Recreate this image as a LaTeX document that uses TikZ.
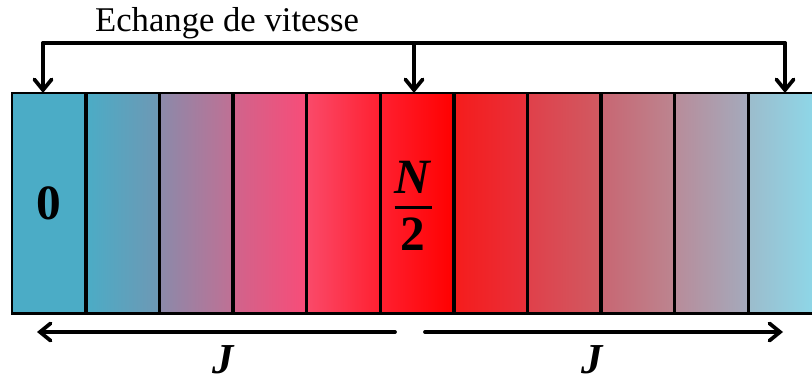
\documentclass[tikz,border=0pt]{standalone}
\usepackage{amsmath}
\usepackage{fontspec}
\setmainfont{Liberation Serif}
\usetikzlibrary{arrows.meta, positioning}

\definecolor{sh0l}{HTML}{4BACC6}
\definecolor{sh0r}{HTML}{4BACC6}
\definecolor{sh1l}{HTML}{4BACC6}
\definecolor{sh1r}{HTML}{6E98B4}
\definecolor{sh2l}{HTML}{8A8AAA}
\definecolor{sh2r}{HTML}{C07094}
\definecolor{sh3l}{HTML}{D0648C}
\definecolor{sh3r}{HTML}{F84C78}
\definecolor{sh4l}{HTML}{FA4A6A}
\definecolor{sh4r}{HTML}{FF2030}
\definecolor{sh5l}{HTML}{FF2030}
\definecolor{sh5r}{HTML}{FF0000}
\definecolor{sh6l}{HTML}{F51C1C}
\definecolor{sh6r}{HTML}{E8303A}
\definecolor{sh7l}{HTML}{E0404A}
\definecolor{sh7r}{HTML}{D05A62}
\definecolor{sh8l}{HTML}{C86672}
\definecolor{sh8r}{HTML}{BC8590}
\definecolor{sh9l}{HTML}{B88C9A}
\definecolor{sh9r}{HTML}{A4AABC}
\definecolor{sh10l}{HTML}{9CBCCC}
\definecolor{sh10r}{HTML}{8CDAEB}

\tikzset{
    cellbox/.style={rectangle, minimum width=55.2pt, minimum height=165pt, inner sep=0pt, anchor=north west},
    cellline/.style={line width=2.2pt},
    flowline/.style={line width=2.8pt, line cap=round, line join=round},
    flowarrow/.style={flowline, -{Straight Barb[length=8pt, width=13pt, line cap=round]}},
    bigsym/.style={font=\fontsize{37}{40}\selectfont\bfseries},
    spanlabel/.style={inner sep=0pt, font=\fontsize{32}{34}\selectfont\bfseries\itshape}
}

\begin{document}
\begin{tikzpicture}[x=0.75pt, y=-0.75pt]
    \useasboundingbox (0,0) rectangle (812,386);
    \clip (0,0) rectangle (812,386);

    % --- cellules ---
    \foreach \i in {0,...,10}
        \node[cellbox, left color=sh\i l, right color=sh\i r] (c\i) at ({12+73.6*\i}, 93) {};
    \foreach \i in {0,...,10}
        \draw[cellline] (c\i.north west) rectangle (c\i.south east);

    % contenu des cellules
    \node[bigsym] (zero) at (c0.center) {0};
    \node[bigsym, xshift=-3, yshift=-2] (half) at (c5.center) {$\genfrac{}{}{2.2pt}{0}{\textbf{\textit{N}}}{\textbf{2}}$};

    % --- echange de vitesse ---
    \node[font=\fontsize{26}{30}\selectfont, anchor=base] (title) at (227,31) {Echange de vitesse};
    \coordinate (bl) at (43,43);
    \coordinate (bm) at (414,43);
    \coordinate (br) at (785,43);
    \draw[flowline] (bl) -- (br);
    \draw[flowarrow] (bl) -- (bl |- c0.north);
    \draw[flowarrow] (bm) -- (bm |- c5.north);
    \draw[flowarrow] (br) -- (br |- c10.north);

    % --- portee J ---
    \coordinate (jls) at (395,332);
    \coordinate (jle) at (37,332);
    \coordinate (jrs) at (425,332);
    \coordinate (jre) at (783,332);
    \draw[flowarrow] (jls) -- (jle);
    \draw[flowarrow] (jrs) -- (jre);
    \node[spanlabel] (jleft) at (223,360) {J};
    \node[spanlabel] (jright) at (592,360) {J};

\end{tikzpicture}
\end{document}
